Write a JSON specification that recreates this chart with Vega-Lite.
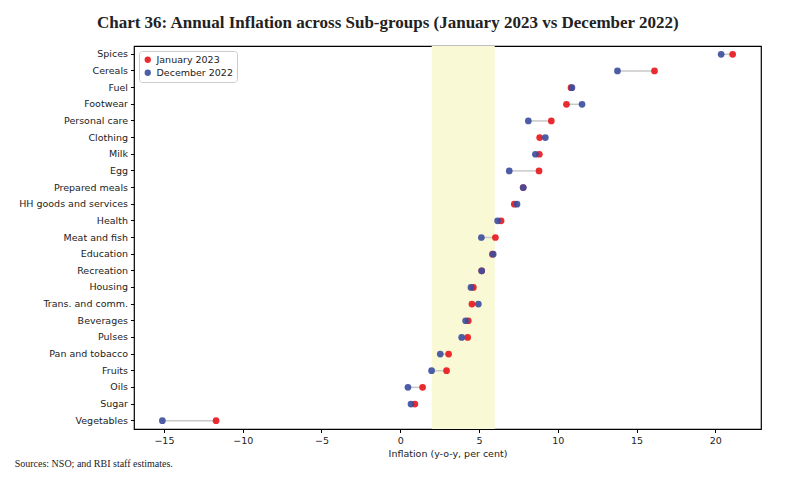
{
  "$schema": "https://vega.github.io/schema/vega-lite/v6.json",
  "background": "white",
  "padding": {"left": 14, "top": 14, "right": 20, "bottom": 10},
  "title": {
    "text": "Chart 36: Annual Inflation across Sub-groups (January 2023 vs December 2022)",
    "font": "Liberation Serif",
    "fontSize": 17,
    "fontWeight": "bold",
    "color": "#222222",
    "anchor": "middle",
    "offset": 13
  },
  "vconcat": [
    {
      "width": 627,
      "height": 383,
      "title": {
        "text": "Sources: NSO; and RBI staff estimates.",
        "orient": "bottom",
        "anchor": "start",
        "frame": "bounds",
        "font": "Liberation Serif",
        "fontSize": 10,
        "fontWeight": "normal",
        "color": "#222222",
        "offset": 1,
        "dx": -4
      },
      "data": {
        "values": [
          {"cat": "Spices", "January 2023": 21.1, "December 2022": 20.37},
          {"cat": "Cereals", "January 2023": 16.14, "December 2022": 13.79},
          {"cat": "Fuel", "January 2023": 10.84, "December 2022": 10.9},
          {"cat": "Footwear", "January 2023": 10.55, "December 2022": 11.54},
          {"cat": "Personal care", "January 2023": 9.59, "December 2022": 8.13},
          {"cat": "Clothing", "January 2023": 8.85, "December 2022": 9.21},
          {"cat": "Milk", "January 2023": 8.83, "December 2022": 8.58},
          {"cat": "Egg", "January 2023": 8.81, "December 2022": 6.92},
          {"cat": "Prepared meals", "January 2023": 7.8, "December 2022": 7.81},
          {"cat": "HH goods and services", "January 2023": 7.24, "December 2022": 7.41},
          {"cat": "Health", "January 2023": 6.4, "December 2022": 6.18},
          {"cat": "Meat and fish", "January 2023": 6.04, "December 2022": 5.15},
          {"cat": "Education", "January 2023": 5.85, "December 2022": 5.9},
          {"cat": "Recreation", "January 2023": 5.17, "December 2022": 5.17},
          {"cat": "Housing", "January 2023": 4.64, "December 2022": 4.49},
          {"cat": "Trans. and comm.", "January 2023": 4.55, "December 2022": 4.96},
          {"cat": "Beverages", "January 2023": 4.32, "December 2022": 4.15},
          {"cat": "Pulses", "January 2023": 4.28, "December 2022": 3.9},
          {"cat": "Pan and tobacco", "January 2023": 3.07, "December 2022": 2.54},
          {"cat": "Fruits", "January 2023": 2.94, "December 2022": 1.99},
          {"cat": "Oils", "January 2023": 1.42, "December 2022": 0.49},
          {"cat": "Sugar", "January 2023": 0.93, "December 2022": 0.68},
          {"cat": "Vegetables", "January 2023": -11.69, "December 2022": -15.1}
        ]
      },
      "layer": [
        {
          "data": {"values": [{"lo": 2, "hi": 6}]},
          "mark": {"type": "rect", "color": "#f9f9d6"},
          "encoding": {
            "x": {"field": "lo", "type": "quantitative", "scale": {"domain": [-16.9, 22.9], "nice": false, "zero": false},
                  "axis": {"values": [-15, -10, -5, 0, 5, 10, 15, 20], "title": "Inflation (y-o-y, per cent)"}},
            "x2": {"field": "hi"}
          }
        },
        {
          "mark": {"type": "rule", "color": "#c8c8c8", "strokeWidth": 1.5},
          "encoding": {
            "y": {"field": "cat", "type": "nominal", "sort": null, "axis": {"title": null}},
            "x": {"field": "January 2023", "type": "quantitative"},
            "x2": {"field": "December 2022"}
          }
        },
        {
          "transform": [
            {"fold": ["January 2023", "December 2022"], "as": ["series", "value"]}
          ],
          "mark": {"type": "circle", "size": 45, "opacity": 0.9},
          "encoding": {
            "y": {"field": "cat", "type": "nominal", "sort": null},
            "x": {"field": "value", "type": "quantitative"},
            "color": {
              "field": "series",
              "type": "nominal",
              "scale": {"domain": ["January 2023", "December 2022"], "range": ["#e8151b", "#3a4c9c"]},
              "legend": {
                "title": null,
                "orient": "top-left",
                "offset": 5,
                "padding": 4,
                "strokeColor": "#cccccc",
                "fillColor": "white",
                "cornerRadius": 3,
                "labelFontSize": 9.5,
                "labelFont": "DejaVu Sans",
                "labelColor": "#222222",
                "symbolSize": 40,
                "symbolType": "circle",
                "symbolOpacity": 0.9,
                "rowPadding": 2
              }
            }
          }
        }
      ]
    }
  ],
  "config": {
    "view": {"stroke": "black", "strokeWidth": 1.2},
    "scale": {"pointPadding": 0.97},
    "axis": {
      "domain": false,
      "grid": false,
      "ticks": true,
      "tickColor": "black",
      "tickSize": 3.5,
      "labelFont": "DejaVu Sans",
      "labelFontSize": 9.5,
      "labelColor": "#222222",
      "labelPadding": 3,
      "titleFont": "DejaVu Sans",
      "titleFontSize": 9.5,
      "titleFontWeight": "normal",
      "titleColor": "#222222",
      "titlePadding": 3
    }
  }
}
